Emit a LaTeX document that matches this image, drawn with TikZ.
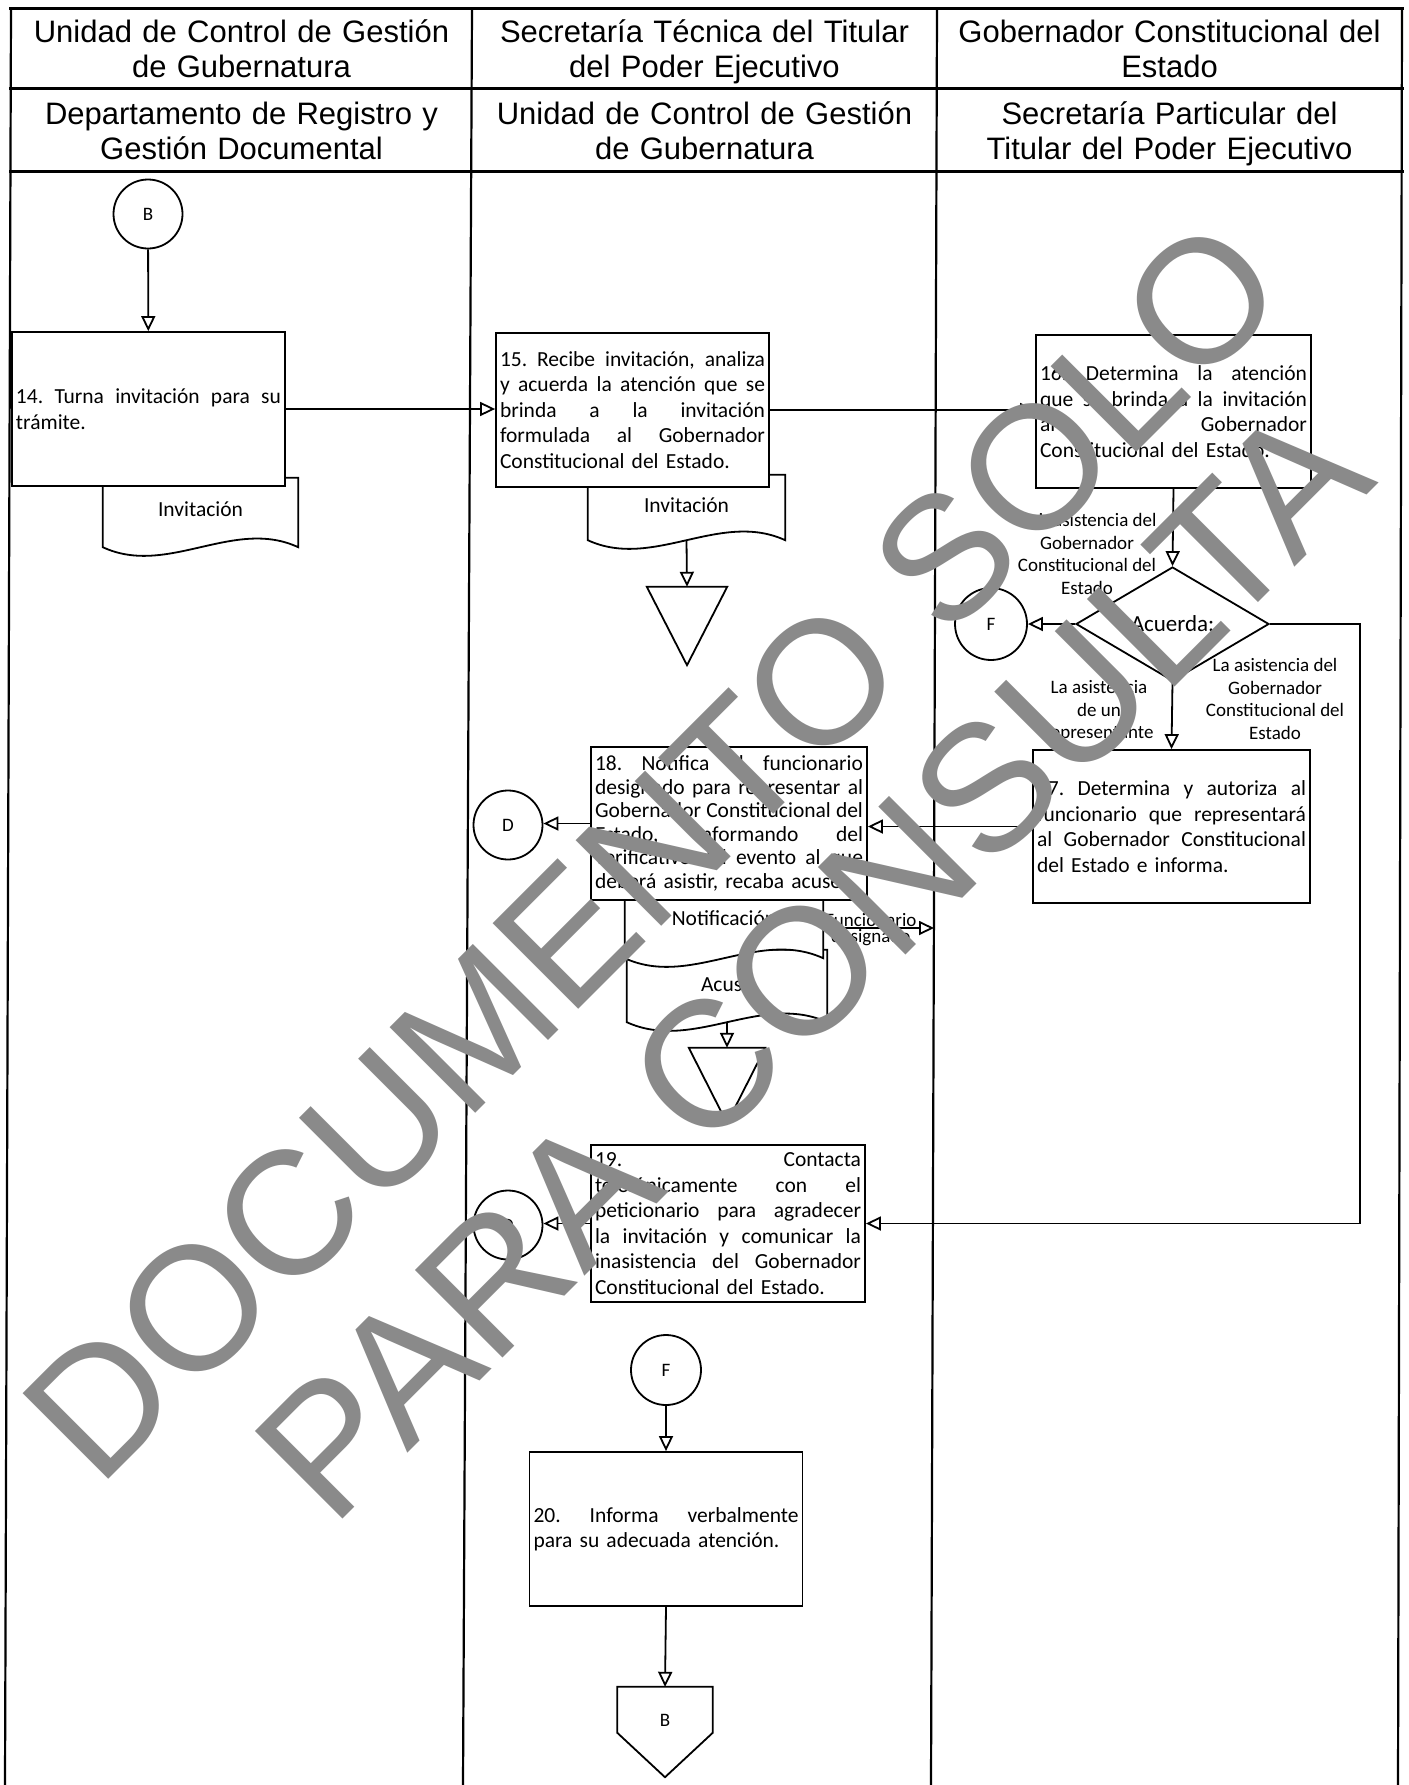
\documentclass[tikz,border=0pt]{standalone}
\usepackage{fontspec}
\setmainfont{Carlito}
\newfontfamily\hdrfont{Liberation Sans}
\usetikzlibrary{arrows.meta,shapes.geometric,calc}
\frenchspacing
\newcommand\jl[1]{\makebox[\hsize][s]{\spaceskip=0pt\xspaceskip=0pt\relax #1}\\}
\newcommand\docpath[1]{\draw[shp] (#1.north west) -- (#1.south west)
  .. controls ($(#1.south west)!0.33!(#1.south east)+(0,30)$)
  and ($(#1.south west)!0.67!(#1.south east)+(0,-30)$) .. (#1.south east)
  -- (#1.north east) -- cycle;}
\begin{document}
\begin{tikzpicture}[x=1pt,y=-1pt,
  shp/.style={draw=black, line width=1.8pt, fill=white},
  procbox/.style={shp, rectangle, inner xsep=4pt, inner ysep=0pt,
    font=\fontsize{21.5pt}{25.5pt}\selectfont},
  docbox/.style={rectangle, inner sep=0pt},
  doctext/.style={font=\fontsize{21.5pt}{25pt}\selectfont, inner sep=1pt},
  conn/.style={shp, circle, minimum size=69pt, inner sep=0pt,
    font=\fontsize{19pt}{22pt}\selectfont},
  lbl/.style={align=center, inner sep=1pt, font=\fontsize{19pt}{22.7pt}\selectfont},
  hdr/.style={align=center, text width=455pt, inner sep=0pt,
    font=\hdrfont\fontsize{31pt}{35pt}\selectfont},
  arr/.style={line width=1.8pt, -{Triangle[open,length=15pt,width=14pt]}},
  outl/.style={draw=black, line width=1.8pt},
  lane/.style={line width=2.2pt},
  hline/.style={line width=3pt},
  wm/.style={text=black!46, font=\hdrfont\fontsize{#1}{200pt}\selectfont,
    rotate=45, inner sep=0pt}
]
\fill[white] (0,0) rectangle (1408,1785);
\useasboundingbox (0,0) rectangle (1408,1785);

% swimlane frame
\draw[lane] (11,9) -- (5,1785);
\draw[lane] (472,9) -- (463,1785);
\draw[lane] (937,9) -- (931,1785);
\draw[lane] (1402,9) -- (1398,1785);
\draw[hline] (9,9) -- (1404,9);
\draw[hline] (9,88) -- (1404,88);
\draw[hline] (9,171) -- (1404,171);

% headers
\node[hdr] (h11) at (241.5,53) {\strut Unidad de Control de Gestión\\\strut de Gubernatura};
\node[hdr] (h12) at (704.5,53) {\strut Secretaría Técnica del Titular\\\strut del Poder Ejecutivo};
\node[hdr] (h13) at (1169.5,53) {\strut Gobernador Constitucional del\\\strut Estado};
\node[hdr] (h21) at (241.5,134.5) {\strut Departamento de Registro y\\\strut Gestión Documental};
\node[hdr] (h22) at (704.5,134.5) {\strut Unidad de Control de Gestión\\\strut de Gubernatura};
\node[hdr] (h23) at (1169.5,134.5) {\strut Secretaría Particular del\\\strut Titular del Poder Ejecutivo};

% column 1
\node[conn] (cB) at (148,214) {B};
\node[docbox, minimum width=195pt, minimum height=69pt] (d1) at (200.5,512.5) {};
\docpath{d1}
\node[doctext] (d1t) at (200.5,509) {Invitación};
\node[procbox, text width=265pt, minimum height=154pt] (s14) at (148.5,409)
  {\jl{14. Turna invitación para su}trámite.};
\draw[arr] (cB) -- (s14);

% column 2, upper
\node[docbox, minimum width=197pt, minimum height=65pt] (d2) at (686.5,507.5) {};
\docpath{d2}
\node[doctext] (d2t) at (686.5,505) {Invitación};
\node[procbox, text width=265pt, minimum height=154pt] (s15) at (632.5,410)
  {\jl{15. Recibe invitación, analiza}\jl{y acuerda la atención que se}\jl{brinda a la invitación}\jl{formulada al Gobernador}Constitucional del Estado.};
\node[docbox, minimum width=80pt, minimum height=78pt] (t1) at (687,626) {};
\draw[outl] (t1.north west) -- (t1.north east) -- (t1.south) -- cycle;
\draw[arr] (d2.south) -- (t1.north);
\draw[arr] (s14.east) -- (s14.east -| s15.west);

% column 3
\node[procbox, text width=267pt, minimum height=153pt] (s16) at (1173.5,411.5)
  {\jl{16. Determina la atención}\jl{que se brinda a la invitación}\jl{al Gobernador}Constitucional del Estado.};
\draw[arr] (s15.east) -- (s15.east -| s16.west);
\node[shp, diamond, minimum width=193pt, minimum height=114pt, inner sep=0pt,
  font=\fontsize{23pt}{26pt}\selectfont] (dia) at (1172.5,624) {Acuerda:};
\draw[arr] (s16.south) -- (dia.north);
\node[conn, minimum size=72pt] (cF1) at (991,624) {F};
\draw[arr] (dia.west) -- (cF1.east);
\node[lbl] (lInas) at (1087,554) {La inasistencia del\\Gobernador\\Constitucional del\\Estado};
\node[lbl] (lRep) at (1099,711) {La asistencia\\de un\\representante};
\node[lbl] (lGob) at (1275,699) {La asistencia del\\Gobernador\\Constitucional del\\Estado};
\node[procbox, text width=269pt, minimum height=153pt] (s17) at (1171.5,826.5)
  {\jl{17. Determina y autoriza al}\jl{funcionario que representará}\jl{al Gobernador Constitucional}del Estado e informa.};
\draw[arr] (dia.south) -- (s17.north);

% column 2, middle
\node[docbox, minimum width=200pt, minimum height=72pt] (d4) at (727,986) {};
\docpath{d4}
\node[doctext] (d4t) at (727,985) {Acuse};
\node[docbox, minimum width=198pt, minimum height=68pt] (d3) at (724,924) {};
\docpath{d3}
\node[doctext] (d3t) at (724,918) {Notificación};
\node[procbox, text width=268pt, minimum height=153pt, font=\fontsize{21.5pt}{23.6pt}\selectfont] (s18) at (729,823.5)
  {\jl{18. Notifica al funcionario}\jl{designado para representar al}\jl{Gobernador Constitucional del}\jl{Estado, informando del}\jl{verificativo del evento al que}deberá asistir, recaba acuse.};
\draw[arr] (s17.west) -- (s17.west -| s18.east);
\node[conn] (cD1) at (508,825) {D};
\draw[arr] (s18.west) -- (s18.west -| cD1.east);
\coordinate (fd) at (934,928);
\draw[arr] (d3.east |- fd) -- (fd)
  node[lbl, pos=0.43, above, inner sep=0.5pt] (lFun) {Funcionario}
  node[lbl, pos=0.43, below, inner sep=0.5pt] (lDes) {designado};
\node[docbox, minimum width=76pt, minimum height=75pt] (t2) at (727,1085.5) {};
\draw[outl] (t2.north west) -- (t2.north east) -- (t2.south) -- cycle;
\draw[arr] (d4.south) -- (t2.north);

% box 19
\node[procbox, text width=266pt, minimum height=157pt] (s19) at (728,1223.5)
  {\jl{19. Contacta}\jl{telefónicamente con el}\jl{peticionario para agradecer}\jl{la invitación y comunicar la}\jl{inasistencia del Gobernador}Constitucional del Estado.};
\coordinate (rc) at (1360,900);
\draw[arr] (dia.east) -| (rc) |- (s19.east);
\node[conn] (cD2) at (508,1225) {D};
\draw[arr] (s19.west) -- (s19.west -| cD2.east);

% bottom
\node[conn, minimum size=70pt] (cF2) at (666,1370) {F};
\node[procbox, text width=265pt, minimum height=154pt] (s20) at (666,1529)
  {\jl{20. Informa verbalmente}para su adecuada atención.};
\draw[arr] (cF2) -- (s20);
\node[docbox, minimum width=95pt, minimum height=66pt, font=\fontsize{19pt}{22pt}\selectfont] (pB) at (665,1720) {B};
\draw[outl] (pB.north west) -- (pB.north east) -- ($(pB.north east)+(0,46)$)
  -- ($(pB.south)+(0,24)$) -- ($(pB.north west)+(0,46)$) -- cycle;
\draw[arr] (s20.south) -- (pB.north);

% watermark
\node[wm=176pt] (wm1) at (653,850) {DOCUMENTO SOLO};
\node[wm=180pt] (wm2) at (812,962) {PARA CONSULTA};
\end{tikzpicture}
\end{document}
